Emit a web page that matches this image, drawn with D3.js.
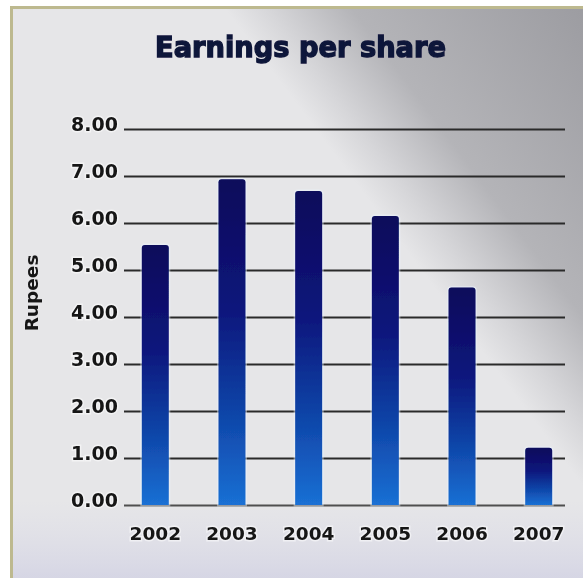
<!DOCTYPE html>
<html>
<head>
<meta charset="utf-8">
<script src="https://cdn.jsdelivr.net/npm/d3@7"></script>
<style>
  html, body { margin: 0; padding: 0; background: #ffffff; }
  svg { display: block; }
</style>
</head>
<body>
<svg id="chart" width="583" height="580"></svg>
<script>
// Earnings per share, in rupees, by financial year
const years = ["2002", "2003", "2004", "2005", "2006", "2007"];
const eps = [5.53, 6.93, 6.68, 6.15, 4.63, 1.22];
const yTicks = [0, 1, 2, 3, 4, 5, 6, 7, 8];
const chartTitle = "Earnings per share";
const yTitle = "Rupees";

const svg = d3.select("#chart");
const W = 583, H = 580;
const plot = { left: 124, right: 565, top: 129, bottom: 505 };

const defs = svg.append("defs");

// Panel shading: dark grey in the upper right fading to a pale grey
const bg = defs.append("linearGradient")
  .attr("id", "panelShade")
  .attr("gradientUnits", "userSpaceOnUse")
  .attr("x1", 394).attr("y1", 234)
  .attr("x2", 626).attr("y2", 60);
bg.append("stop").attr("offset", 0).attr("stop-color", "#e6e6e8");
bg.append("stop").attr("offset", 0.12).attr("stop-color", "#d6d6d9");
bg.append("stop").attr("offset", 0.35).attr("stop-color", "#b4b4b8");
bg.append("stop").attr("offset", 1).attr("stop-color", "#9c9ca1");

// Bottom haze of the panel
const bgLow = defs.append("linearGradient")
  .attr("id", "panelLow")
  .attr("x1", 0).attr("y1", 0).attr("x2", 0).attr("y2", 1);
bgLow.append("stop").attr("offset", 0).attr("stop-color", "#dcdce8").attr("stop-opacity", 0);
bgLow.append("stop").attr("offset", 1).attr("stop-color", "#d4d4e4").attr("stop-opacity", 0.9);

// Bar fill: navy at the top to bright blue at the base
const barGrad = defs.append("linearGradient")
  .attr("id", "barFill")
  .attr("x1", 0).attr("y1", 0).attr("x2", 0).attr("y2", 1);
barGrad.append("stop").attr("offset", 0).attr("stop-color", "#07085a");
barGrad.append("stop").attr("offset", 0.4).attr("stop-color", "#0a167c");
barGrad.append("stop").attr("offset", 0.72).attr("stop-color", "#0f45a8");
barGrad.append("stop").attr("offset", 1).attr("stop-color", "#1a70d4");

// Slight softening, with a generous region so thin lines and moved text are not clipped
const soft = defs.append("filter").attr("id", "soft")
  .attr("filterUnits", "userSpaceOnUse")
  .attr("x", -1000).attr("y", -1000).attr("width", 3000).attr("height", 3000);
soft.append("feGaussianBlur").attr("stdDeviation", 0.6);

// Frame and panel
svg.append("rect").attr("x", 0).attr("y", 0).attr("width", W).attr("height", H).attr("fill", "#ffffff");
svg.append("rect").attr("x", 10).attr("y", 6).attr("width", W - 10).attr("height", 572)
  .attr("fill", "#bdb98f");
svg.append("rect").attr("x", 13).attr("y", 9).attr("width", W - 13).attr("height", 569)
  .attr("fill", "url(#panelShade)");
svg.append("rect").attr("x", 13).attr("y", 500).attr("width", W - 13).attr("height", 78)
  .attr("fill", "url(#panelLow)");

// Scales
const x = d3.scaleBand()
  .domain(years)
  .range([128, 566])
  .paddingInner(0.648)
  .paddingOuter(0.18);

const y = d3.scaleLinear()
  .domain([0, 8])
  .range([plot.bottom, plot.top]);

// Gridlines and value labels
const yAxis = d3.axisLeft(y)
  .tickValues(yTicks)
  .tickFormat(d3.format(".2f"))
  .tickSize(-(plot.right - plot.left))
  .tickPadding(6);

const gy = svg.append("g")
  .attr("transform", `translate(${plot.left},0)`)
  .call(yAxis);
gy.select(".domain").remove();
gy.selectAll(".tick line")
  .attr("stroke", (d) => d === 0 ? "#505050" : "#2a2a2a")
  .attr("stroke-width", 1.8)
  .attr("filter", "url(#soft)");
gy.selectAll(".tick text")
  .attr("font-family", "'DejaVu Sans', sans-serif")
  .attr("font-weight", "bold")
  .attr("font-size", 19)
  .attr("fill", "#141414")
  .attr("dy", "0.1em")
  .attr("stroke", "rgba(255,255,255,0.5)")
  .attr("stroke-width", 3)
  .attr("paint-order", "stroke")
  .attr("filter", "url(#soft)");

// Bars with slightly rounded top corners
const r = 3;
function barPath(d, i) {
  const x0 = x(years[i]), w = x.bandwidth();
  const yt = y(d), yb = y(0);
  return `M${x0},${yb} V${yt + r} Q${x0},${yt} ${x0 + r},${yt} H${x0 + w - r} Q${x0 + w},${yt} ${x0 + w},${yt + r} V${yb} Z`;
}

// faint glow behind each bar
svg.append("g").selectAll("path")
  .data(eps)
  .join("path")
  .attr("d", barPath)
  .attr("fill", "none")
  .attr("stroke", "rgba(235,245,255,0.45)")
  .attr("stroke-width", 3)
  .attr("filter", "url(#soft)");

svg.append("g").selectAll("path")
  .data(eps)
  .join("path")
  .attr("d", barPath)
  .attr("fill", "url(#barFill)")
  .attr("filter", "url(#soft)");

// Category labels
const xAxis = d3.axisBottom(x).tickSize(0).tickPadding(22);
const gx = svg.append("g")
  .attr("transform", `translate(0,${plot.bottom})`)
  .call(xAxis);
gx.select(".domain").remove();
gx.selectAll(".tick text")
  .attr("font-family", "'DejaVu Sans', sans-serif")
  .attr("font-weight", "bold")
  .attr("font-size", 18.5)
  .attr("fill", "#141414")
  .attr("stroke", "rgba(255,255,255,0.5)")
  .attr("stroke-width", 3)
  .attr("paint-order", "stroke")
  .attr("filter", "url(#soft)");

// Axis title
svg.append("text")
  .attr("transform", "translate(38,293) rotate(-90)")
  .attr("text-anchor", "middle")
  .attr("font-family", "'DejaVu Sans', sans-serif")
  .attr("font-weight", "bold")
  .attr("font-size", 18.5)
  .attr("fill", "#141414")
  .attr("filter", "url(#soft)")
  .text(yTitle);

// Chart title
svg.append("text")
  .attr("x", 155)
  .attr("y", 57)
  .attr("textLength", 291)
  .attr("lengthAdjust", "spacingAndGlyphs")
  .attr("font-family", "'DejaVu Sans', sans-serif")
  .attr("font-weight", "bold")
  .attr("font-size", 29)
  .attr("fill", "#11163a")
  .attr("stroke", "#11163a")
  .attr("stroke-width", 1.4)
  .attr("filter", "url(#soft)")
  .text(chartTitle);
</script>
</body>
</html>
